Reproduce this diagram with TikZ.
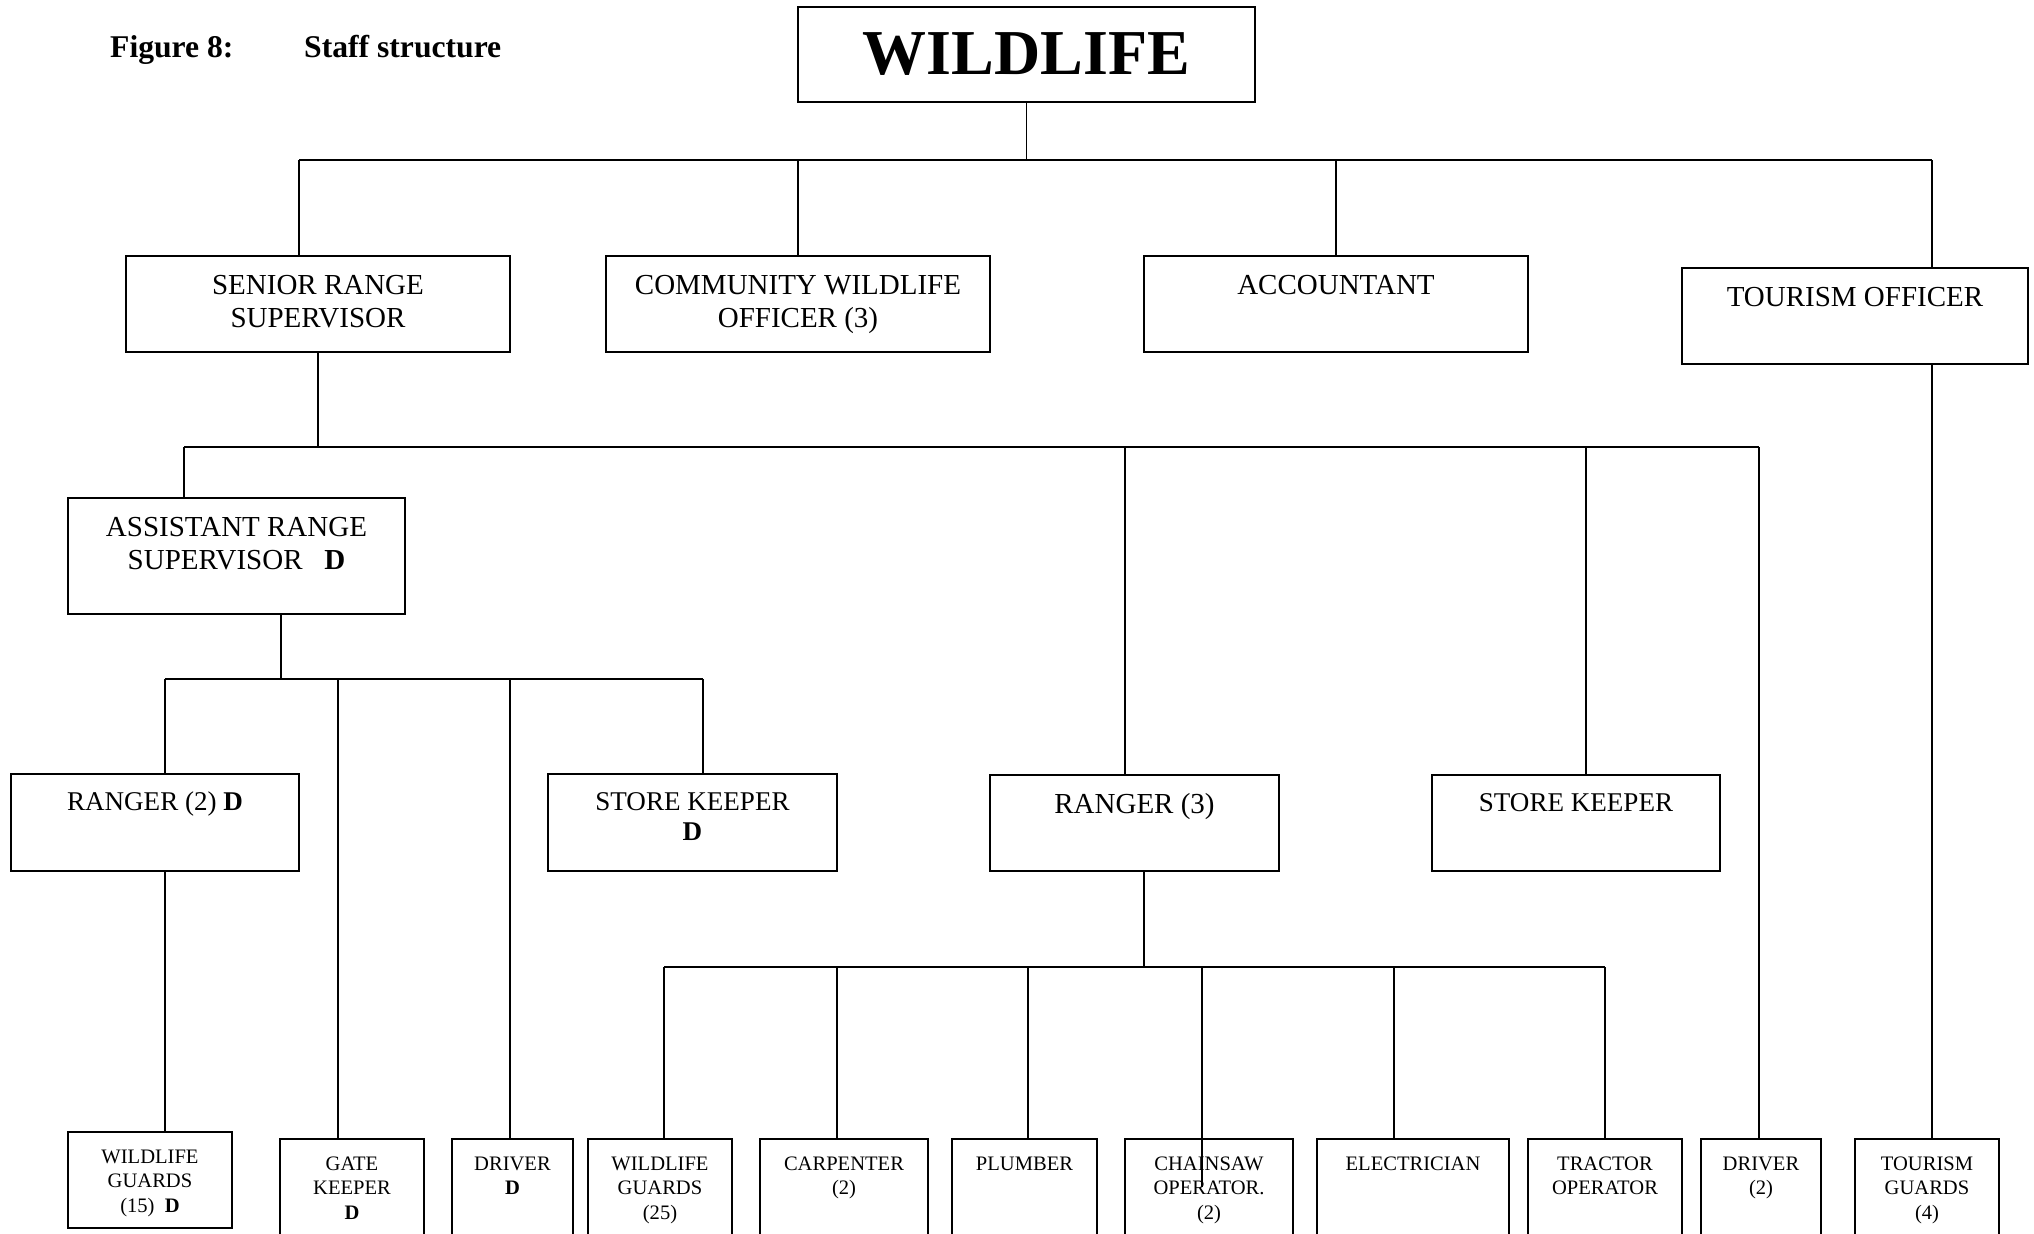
\documentclass[tikz,border=0pt]{standalone}
\usepackage{fontspec}
\setmainfont{Liberation Serif}
\usepackage{tikz}

% lines of a box, hung from the first baseline
\newcommand{\boxrows}[1]{\begin{tabular}[t]{@{}c@{}}#1\end{tabular}}

\begin{document}
\begin{tikzpicture}[% styles used in chart code
       x = 0.2mm, y = -0.2mm,
link/.style = {line width=0.7pt},
 box/.style args = {#1/#2}{draw, line width=1pt,
                           anchor=north west, inner sep=0pt, outer sep=0pt,
                           minimum width=#1*0.2mm,
                           text depth=#2*0.2mm}, % depth below 1st baseline
 big/.style = {font=\fontsize{16.5}{19.3}\selectfont, text height=38*0.2mm},
 mid/.style = {font=\fontsize{15.4}{17.1}\selectfont, text height=36*0.2mm},
small/.style = {font=\fontsize{11.7}{14.1}\selectfont, text height=31*0.2mm},
head/.style = {draw, line width=1pt, outer sep=0pt,
               minimum width=457*0.2mm, minimum height=95*0.2mm,
               font=\fontsize{36.4}{40}\selectfont\bfseries},
title/.style = {anchor=base west, font=\fontsize{18}{20}\selectfont\bfseries}
                    ]
	\useasboundingbox (0,0) rectangle (2034,1234);
	\clip (0,0) rectangle (2034,1234);

	% heading
	\node[title] (fig) at (104,57) {Figure 8:};
	\node[title] (cap) at (298,57) {Staff structure};
	\node[head] (wild) at (1026.5,54.5) {WILDLIFE};

	% first level
	\node[box=384/58, big] (srs) at (126,256) {\boxrows{SENIOR RANGE\\SUPERVISOR}};
	\node[box=384/58, big] (cwo) at (606,256) {\boxrows{COMMUNITY WILDLIFE\\OFFICER (3)}};
	\node[box=384/58, big] (acc) at (1144,256) {ACCOUNTANT};
	\node[box=346/58, big] (tou) at (1682,268) {TOURISM OFFICER};

	% second level
	\node[box=337/78, big] (ars) at (68,498) {\boxrows{ASSISTANT RANGE\\SUPERVISOR\ \ \ \textbf{D}}};
	\node[box=288/61, mid] (rng2) at (11,774) {RANGER (2) \textbf{D}};
	\node[box=289/61, mid] (skd) at (548,774) {\boxrows{STORE KEEPER\\\textbf{D}}};
	\node[box=289/58, big] (rng3) at (990,775) {RANGER (3)};
	\node[box=288/60, mid] (sk) at (1432,775) {STORE KEEPER};

	% bottom row
	\node[box=164/65, small] (wg15) at (68,1132) {\boxrows{WILDLIFE\\GUARDS\\(15)\ \ \textbf{D}}};
	\node[box=144/90, small] (gate) at (280,1139) {\boxrows{GATE\\KEEPER\\\textbf{D}}};
	\node[box=121/90, small] (drv1) at (452,1139) {\boxrows{DRIVER\\\textbf{D}}};
	\node[box=144/90, small] (wg25) at (588,1139) {\boxrows{WILDLIFE\\GUARDS\\(25)}};
	\node[box=168/90, small] (carp) at (760,1139) {\boxrows{CARPENTER\\(2)}};
	\node[box=145/90, small] (plum) at (952,1139) {PLUMBER};
	\node[box=168/90, small] (chain) at (1125,1139) {\boxrows{CHAINSAW\\OPERATOR.\\(2)}};
	\node[box=192/90, small] (elec) at (1317,1139) {ELECTRICIAN};
	\node[box=154/90, small] (trac) at (1528,1139) {\boxrows{TRACTOR\\OPERATOR}};
	\node[box=120/90, small] (drv2) at (1701,1139) {\boxrows{DRIVER\\(2)}};
	\node[box=144/90, small] (tg) at (1855,1139) {\boxrows{TOURISM\\GUARDS\\(4)}};

	% top bus
	\coordinate (t1) at (299,160);
	\coordinate (t2) at (1932,160);
	\draw[link] (t1) -- (t2);
	\draw[link] (wild.south) -- (wild.south |- t1);
	\draw[link] (t1) -- (t1 |- srs.north);
	\draw[link] (cwo.north) -- (cwo.north |- t1);
	\draw[link] (acc.north) -- (acc.north |- t1);
	\draw[link] (t2) -- (t2 |- tou.north);
	\draw[link] (t2 |- tou.south) -- (t2 |- tg.north);

	% senior range supervisor bus
	\coordinate (m1) at (184,447);
	\coordinate (m2) at (1759,447);
	\coordinate (m3) at (1125,447);
	\coordinate (m4) at (1586,447);
	\draw[link] (srs.south) -- (srs.south |- m1);
	\draw[link] (m1) -- (m2);
	\draw[link] (m1) -- (m1 |- ars.north);
	\draw[link] (m3) -- (m3 |- rng3.north);
	\draw[link] (m4) -- (m4 |- sk.north);
	\draw[link] (m2) -- (m2 |- drv2.north);

	% assistant range supervisor bus
	\coordinate (a0) at (281,679);
	\coordinate (a1) at (165,679);
	\coordinate (a2) at (338,679);
	\coordinate (a3) at (510,679);
	\coordinate (a4) at (703,679);
	\draw[link] (a0 |- ars.south) -- (a0);
	\draw[link] (a1) -- (a4);
	\draw[link] (a1) -- (a1 |- rng2.north);
	\draw[link] (a2) -- (a2 |- gate.north);
	\draw[link] (a3) -- (a3 |- drv1.north);
	\draw[link] (a4) -- (a4 |- skd.north);
	\draw[link] (a1 |- rng2.south) -- (a1 |- wg15.north);

	% ranger (3) bus
	\coordinate (r0) at (1144,967);
	\coordinate (r1) at (664,967);
	\coordinate (r2) at (837,967);
	\coordinate (r3) at (1028,967);
	\coordinate (r4) at (1202,967);
	\coordinate (r5) at (1394,967);
	\coordinate (r6) at (1605,967);
	\draw[link] (r0 |- rng3.south) -- (r0);
	\draw[link] (r1) -- (r6);
	\foreach \c/\n in {r1/wg25, r2/carp, r3/plum, r5/elec, r6/trac}
		\draw[link] (\c) -- (\c |- \n.north);
	\draw[link] (r4) -- (r4 |- chain.north) -- ++(0,48); % runs into the box
\end{tikzpicture}
\end{document}
